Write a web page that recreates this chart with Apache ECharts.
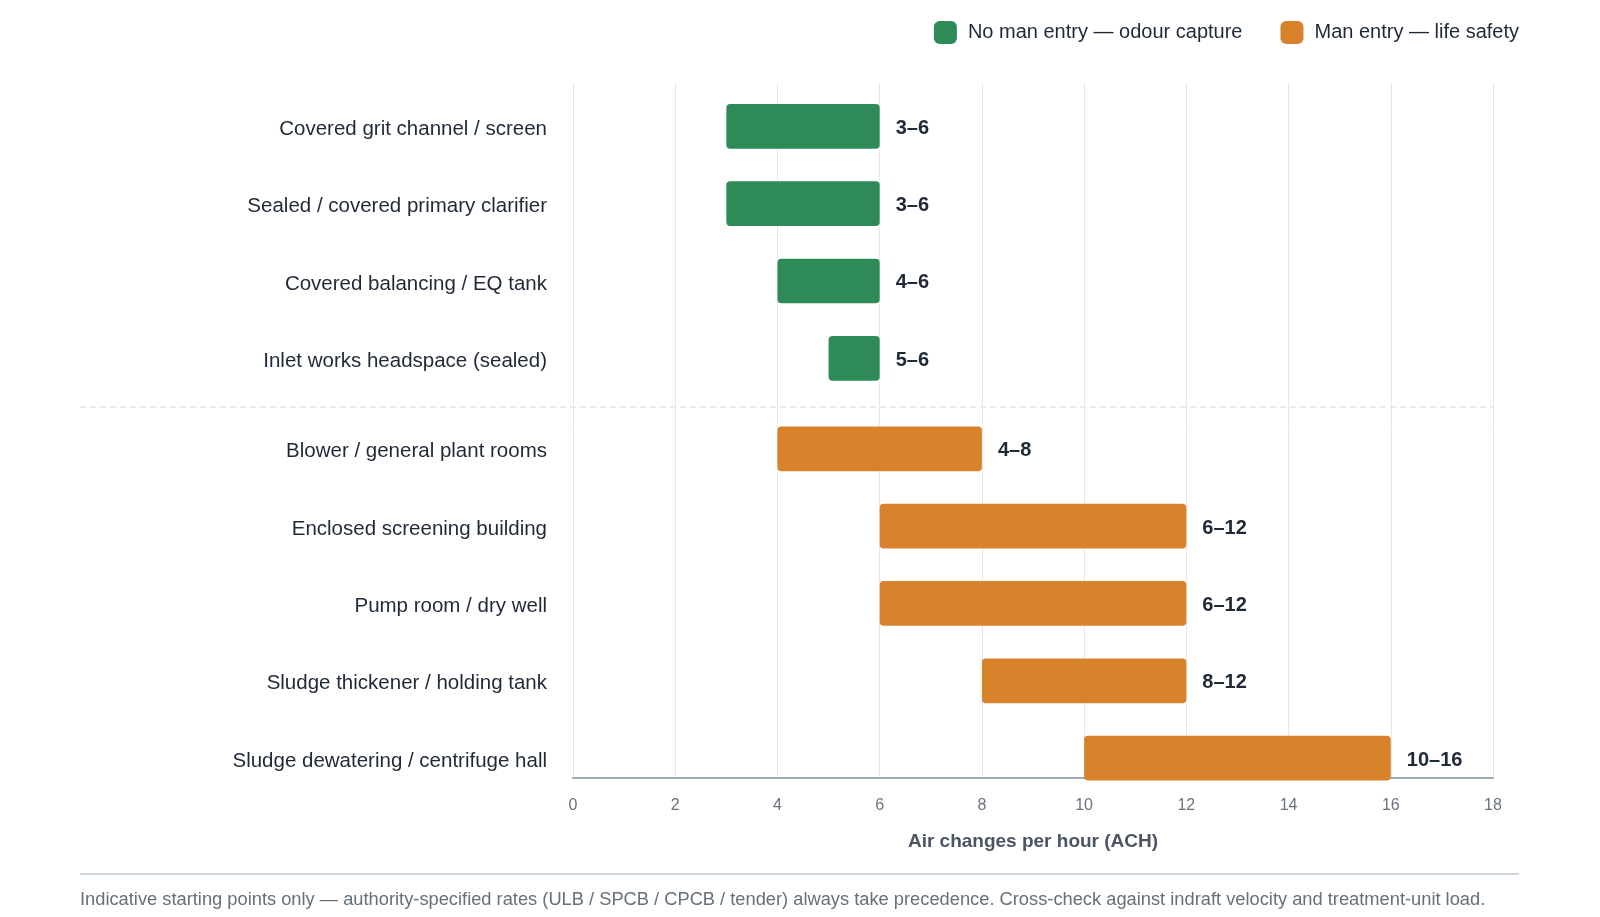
<!DOCTYPE html>
<html>
<head>
<meta charset="utf-8">
<title>Ventilation rates</title>
<script src="https://cdn.jsdelivr.net/npm/echarts@6/dist/echarts.min.js"></script>
<style>
  html, body { margin: 0; padding: 0; background: #fff; }
  #main { width: 1600px; height: 917px; }
</style>
</head>
<body>
<div id="main"></div>
<script>
// group 1: no man entry (odour capture)
var odourNames = [
  'Covered grit channel / screen',
  'Sealed / covered primary clarifier',
  'Covered balancing / EQ tank',
  'Inlet works headspace (sealed)'
];
var odourLow = [3, 3, 4, 5];
var odourHigh = [6, 6, 6, 6];

// group 2: man entry (life safety)
var safetyNames = [
  'Blower / general plant rooms',
  'Enclosed screening building',
  'Pump room / dry well',
  'Sludge thickener / holding tank',
  'Sludge dewatering / centrifuge hall'
];
var safetyLow = [4, 6, 6, 8, 10];
var safetyHigh = [8, 12, 12, 12, 16];

var legendNames = ['No man entry — odour capture', 'Man entry — life safety'];
var xTicks = [0, 2, 4, 6, 8, 10, 12, 14, 16, 18];

var FONT = '"Liberation Sans", Arial, Helvetica, sans-serif';
var GREEN = '#2e8b57';
var ORANGE = '#d8832c';
var TEXT = '#1f2937';

// rows sit on a value axis so the two groups can have a small gap between them
var groupGap = 0.17;
var odourPos = odourNames.map(function (n, i) { return i; });
var safetyPos = safetyNames.map(function (n, i) { return odourNames.length + groupGap + i; });
var dividerPos = odourNames.length - 1 + 0.63;

var labelByPos = {};
odourPos.forEach(function (p, i) { labelByPos[p.toFixed(2)] = odourNames[i]; });
safetyPos.forEach(function (p, i) { labelByPos[p.toFixed(2)] = safetyNames[i]; });

function rows(pos, lo, hi) {
  return pos.map(function (p, i) { return [p, lo[i], hi[i]]; });
}

function renderRange(params, api) {
  var y = api.value(0);
  var lo = api.value(1);
  var hi = api.value(2);
  var a = api.coord([lo, y]);
  var b = api.coord([hi, y]);
  var h = api.size([0, 1])[1] * 0.578;
  return {
    type: 'group',
    children: [
      {
        type: 'rect',
        shape: { x: a[0], y: a[1] - h / 2, width: b[0] - a[0], height: h, r: 4 },
        style: { fill: api.visual('color') }
      },
      {
        type: 'text',
        style: {
          text: lo + '–' + hi,
          x: b[0] + 16,
          y: b[1] + 2,
          verticalAlign: 'middle',
          font: 'bold 20px ' + FONT,
          fill: TEXT
        }
      }
    ]
  };
}

var myChart = echarts.init(document.getElementById('main'));

var option = {
  animation: false,
  textStyle: { fontFamily: FONT },
  legend: {
    data: legendNames,
    right: 76,
    top: 16,
    icon: 'roundRect',
    itemWidth: 23,
    itemHeight: 23,
    itemGap: 38,
    textStyle: { fontSize: 20, color: TEXT, fontFamily: FONT, padding: [0, 0, 0, 6] }
  },
  grid: {
    left: 573,
    right: 107,
    top: 83,
    bottom: 139
  },
  xAxis: {
    type: 'value',
    min: 0,
    max: 18,
    interval: 2,
    name: 'Air changes per hour (ACH)',
    nameLocation: 'middle',
    nameGap: 54,
    nameTextStyle: { fontSize: 19, fontWeight: 'bold', color: '#4b5563', fontFamily: FONT },
    axisLine: { show: true, onZero: false, lineStyle: { color: '#a0aab4', width: 2 } },
    axisTick: { show: false },
    axisLabel: { fontSize: 16, color: '#6b7280', margin: 20, fontFamily: FONT },
    splitLine: { show: true, lineStyle: { color: '#e6e8eb', width: 1 } }
  },
  yAxis: {
    type: 'value',
    inverse: true,
    min: -0.56,
    max: 8.427,
    axisLine: { show: false },
    axisTick: { show: false },
    splitLine: { show: false },
    axisLabel: {
      customValues: odourPos.concat(safetyPos),
      margin: 26,
      formatter: function (v) {
        var name = labelByPos[Number(v).toFixed(2)];
        return name ? '{row|' + name + '}' : '';
      },
      rich: {
        row: {
          fontSize: 20.5,
          color: TEXT,
          fontFamily: FONT,
          padding: [6, 0, 0, 0]
        }
      }
    }
  },
  series: [
    {
      name: legendNames[0],
      type: 'custom',
      renderItem: renderRange,
      itemStyle: { color: GREEN },
      encode: { x: [1, 2], y: 0 },
      data: rows(odourPos, odourLow, odourHigh)
    },
    {
      name: legendNames[1],
      type: 'custom',
      renderItem: renderRange,
      itemStyle: { color: ORANGE },
      encode: { x: [1, 2], y: 0 },
      data: rows(safetyPos, safetyLow, safetyHigh)
    }
  ]
};

myChart.setOption(option);

// divider and footer, placed after the axes exist
var divY = myChart.convertToPixel({ yAxisIndex: 0 }, dividerPos);
var rightX = myChart.convertToPixel({ xAxisIndex: 0 }, xTicks[xTicks.length - 1]);
myChart.setOption({
  graphic: [
    {
      type: 'line',
      shape: { x1: 80, y1: divY, x2: rightX, y2: divY },
      style: { stroke: '#d6d9dd', lineWidth: 1, lineDash: [6, 4] }
    },
    {
      type: 'line',
      shape: { x1: 80, y1: 874, x2: 1519, y2: 874 },
      style: { stroke: '#ccd5db', lineWidth: 2 }
    },
    {
      type: 'text',
      left: 80,
      top: 891,
      style: {
        text: 'Indicative starting points only — authority-specified rates (ULB / SPCB / CPCB / tender) always take precedence. Cross-check against indraft velocity and treatment-unit load.',
        font: '18.3px ' + FONT,
        fill: '#66707a'
      }
    }
  ]
});
</script>
</body>
</html>
